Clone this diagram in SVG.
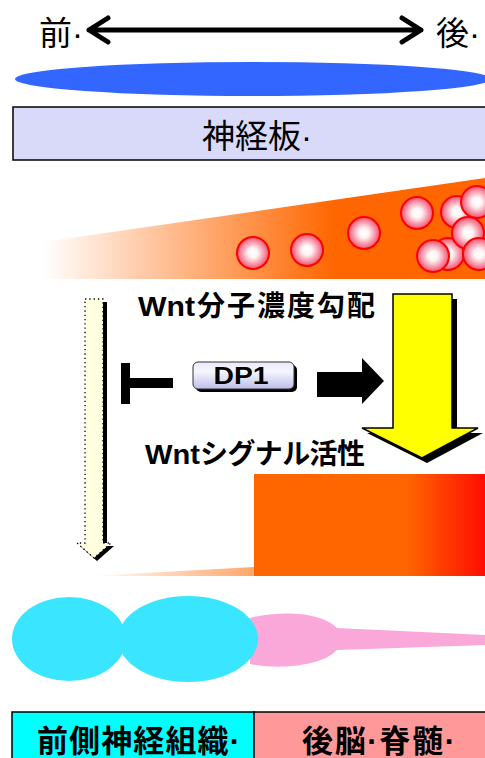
<svg xmlns="http://www.w3.org/2000/svg" width="485" height="758" viewBox="0 0 485 758">
  <style>
    .jp { font-family: "Liberation Sans", "Noto Sans CJK JP", sans-serif; fill: #000; }
    .lbl { font-size: 33px; }
    .foot { font-size: 31px; font-weight: 600; }
    .wnt { font-size: 28px; font-weight: 600; }
    .box { stroke: #000; stroke-width: 1.5; }
    .ball { fill: url(#ballFill); stroke: #FF0000; stroke-width: 2; }
  </style>
  <defs>
    <linearGradient id="wedgeFade" gradientUnits="userSpaceOnUse" x1="43" y1="0" x2="335" y2="0">
      <stop offset="0" stop-color="#FFFFFF"/>
      <stop offset="1" stop-color="#FF6600"/>
    </linearGradient>
    <linearGradient id="lowFade" gradientUnits="userSpaceOnUse" x1="90" y1="0" x2="335" y2="0">
      <stop offset="0" stop-color="#FFFFFF"/>
      <stop offset="1" stop-color="#FF7A20"/>
    </linearGradient>
    <linearGradient id="signalFill" gradientUnits="userSpaceOnUse" x1="254" y1="0" x2="485" y2="0">
      <stop offset="0" stop-color="#FF6600"/>
      <stop offset="0.66" stop-color="#FF6600"/>
      <stop offset="1" stop-color="#FF0D00"/>
    </linearGradient>
    <radialGradient id="ballFill" cx="0.5" cy="0.5" r="0.5">
      <stop offset="0" stop-color="#FFFFFF"/>
      <stop offset="0.3" stop-color="#FFF4F6"/>
      <stop offset="1" stop-color="#F0506E"/>
    </radialGradient>
    <linearGradient id="dpFill" x1="0" y1="0" x2="0" y2="1">
      <stop offset="0" stop-color="#E8E8FA"/>
      <stop offset="0.35" stop-color="#F6F6FF"/>
      <stop offset="1" stop-color="#BDBDEB"/>
    </linearGradient>
  </defs>

  <!-- anterior-posterior axis -->
  <g id="axis">
    <text class="jp lbl" x="39" y="45">前·</text>
    <text class="jp lbl" x="436" y="45">後·</text>
    <path d="M89,30 H421 M108,18 L89,30 L108,42 M402,18 L421,30 L402,42" fill="none" stroke="#000" stroke-width="5" stroke-linecap="round" stroke-linejoin="round"/>
  </g>

  <!-- neural plate -->
  <g id="plate">
    <ellipse cx="253" cy="79" rx="238" ry="17" fill="#3366FF"/>
    <rect class="box" x="13" y="107" width="480" height="53" fill="#D9D9FA"/>
    <text class="jp lbl" x="202" y="148">神経板·</text>
  </g>

  <!-- Wnt gradient wedge with molecules -->
  <g id="gradient">
    <polygon points="43,242 485,178 485,279 43,279" fill="url(#wedgeFade)"/>
    <circle class="ball" cx="253" cy="253" r="16"/>
    <circle class="ball" cx="307" cy="250" r="16"/>
    <circle class="ball" cx="364" cy="233" r="16"/>
    <circle class="ball" cx="417" cy="213" r="16"/>
    <circle class="ball" cx="457" cy="212" r="16"/>
    <circle class="ball" cx="448" cy="254" r="16"/>
    <circle class="ball" cx="468" cy="233" r="16"/>
    <circle class="ball" cx="477" cy="202" r="16"/>
    <circle class="ball" cx="433" cy="256" r="16"/>
    <circle class="ball" cx="479" cy="254" r="16"/>
  </g>

  <g id="label-gradient">
    <text class="jp wnt" x="138" y="316" textLength="57" lengthAdjust="spacingAndGlyphs">Wnt</text>
    <text class="jp wnt" x="197" y="316" textLength="178" lengthAdjust="spacing">分子濃度勾配</text>
  </g>
  <g id="label-signal">
    <text class="jp wnt" x="145" y="464" textLength="55" lengthAdjust="spacingAndGlyphs">Wnt</text>
    <text class="jp wnt" x="200" y="464" textLength="165" lengthAdjust="spacing">シグナル活性</text>
  </g>

  <!-- DP1 node -->
  <g id="dp1">
    <rect x="196" y="365" width="101" height="27" rx="5" fill="#000"/>
    <rect x="193" y="362" width="101" height="27" rx="5" fill="url(#dpFill)" stroke="#333" stroke-width="1"/>
    <text x="241" y="384" text-anchor="middle" font-family="Liberation Sans, sans-serif" font-weight="bold" font-size="23" textLength="55" lengthAdjust="spacingAndGlyphs">DP1</text>
  </g>

  <!-- connectors -->
  <g id="connectors">
    <!-- inhibition bar -->
    <path d="M121,363 H130 V378 H173 V388 H130 V404 H121 Z" fill="#000"/>
    <!-- activation arrow -->
    <polygon points="317,372 362,372 362,358 384,381 362,404 362,397 317,397" fill="#000"/>
    <!-- anterior (weak) arrow -->
    <polygon points="88,302 107,302 107,546 114,546 97,561 80,546 88,546" fill="#000"/>
    <polygon points="85,299 103,299 103,543 111,543 94,558 77,543 85,543" fill="#FFFFE0" stroke="#000" stroke-width="1.3" stroke-dasharray="1.3 3"/>
    <!-- posterior (strong) arrow -->
    <polygon points="398,299 457,299 457,433 483,433 427,463 367,433 398,433" fill="#000"/>
    <polygon points="393,294 452,294 452,428 478,428 422,458 362,428 393,428" fill="#FFFF00" stroke="#000" stroke-width="1.5"/>
  </g>

  <!-- Wnt signalling activity -->
  <g id="activity">
    <polygon points="90,576 254,567 254,576" fill="url(#lowFade)"/>
    <rect x="254" y="474" width="231" height="102" fill="url(#signalFill)"/>
  </g>

  <!-- neural tube regions -->
  <g id="tube">
    <path d="M250,618 C280,610 322,612 337,628 L485,635 L485,645 L337,650 C322,666 280,670 250,664 Z" fill="#FAA7DA"/>
    <ellipse cx="69" cy="639" rx="57" ry="42" fill="#39E5FF"/>
    <ellipse cx="188" cy="639" rx="70" ry="43" fill="#39E5FF"/>
  </g>

  <g id="forebrain">
    <rect class="box" x="12" y="712" width="242" height="60" fill="#00FFFF"/>
    <text class="jp foot" x="37" y="752" textLength="203" lengthAdjust="spacing">前側神経組織·</text>
  </g>
  <g id="hindbrain">
    <rect class="box" x="254" y="712" width="240" height="60" fill="#FF9999"/>
    <text class="jp foot" x="302" y="752" textLength="153" lengthAdjust="spacing">後脳·脊髄·</text>
  </g>
</svg>
